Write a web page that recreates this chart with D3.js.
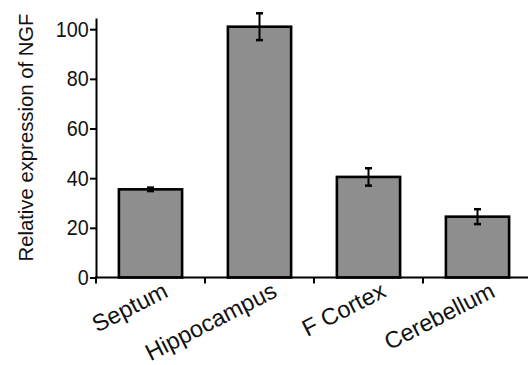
<!DOCTYPE html>
<html>
<head>
<meta charset="utf-8">
<script src="https://cdn.jsdelivr.net/npm/d3@7"></script>
<style>
  html, body { margin: 0; padding: 0; background: #fff; }
  svg { display: block; }
  text { font-family: "Liberation Sans", Arial, Helvetica, sans-serif; fill: #111; }
</style>
</head>
<body>
<svg id="chart" width="528" height="365"></svg>
<script>
const categories = ["Septum", "Hippocampus", "F Cortex", "Cerebellum"];
const values = [35.5, 101, 40.5, 24.5];
const errors = [0.7, 5.4, 3.5, 3.0];
const yTicks = [0, 20, 40, 60, 80, 100];
const yTitle = "Relative expression of NGF";

const svg = d3.select("#chart");
const x0 = 96, x1 = 532, yBase = 277.5, yTop = 18;

const x = d3.scaleBand().domain(categories).range([x0, x1])
  .paddingInner(0.42).paddingOuter(0.21);
const y = d3.scaleLinear().domain([0, 104.5]).range([yBase, yTop]);

// bars
svg.append("g").selectAll("rect").data(categories).join("rect")
  .attr("x", d => x(d))
  .attr("y", (d, i) => y(values[i]))
  .attr("width", x.bandwidth())
  .attr("height", (d, i) => y(0) - y(values[i]))
  .attr("fill", "#8e8e8e")
  .attr("stroke", "#000")
  .attr("stroke-width", 2.6);

// error bars
const eg = svg.append("g").attr("stroke", "#000");
categories.forEach((c, i) => {
  const cx = x(c) + x.bandwidth() / 2;
  const hi = y(values[i] + errors[i]), lo = y(values[i] - errors[i]);
  eg.append("line").attr("x1", cx).attr("x2", cx).attr("y1", hi).attr("y2", lo).attr("stroke-width", 2);
  [hi, lo].forEach(v => eg.append("line").attr("x1", cx - 3.5).attr("x2", cx + 3.5)
    .attr("y1", v).attr("y2", v).attr("stroke-width", 2.5));
});

// y axis
const yAxis = svg.append("g").attr("transform", `translate(${x0},0)`)
  .call(d3.axisLeft(y).tickValues(yTicks).tickSize(6).tickPadding(2).tickSizeOuter(0));
yAxis.select(".domain").attr("stroke", "#000").attr("stroke-width", 2);
yAxis.selectAll(".tick line").attr("stroke", "#000").attr("stroke-width", 2);
yAxis.selectAll(".tick text").attr("font-size", 21.5).attr("fill", "#111")
  .attr("font-family", "Liberation Sans, Arial, sans-serif")
  .attr("transform", "scale(0.92,1)");

// x axis: tick marks at band boundaries
const bounds = categories.map(c => x(c) - x.step() * x.paddingInner() / 2);
bounds[0] = x0;
bounds.push(x1);
const xAxisG = svg.append("g");
xAxisG.append("line").attr("x1", x0 - 1).attr("x2", x1).attr("y1", yBase).attr("y2", yBase)
  .attr("stroke", "#000").attr("stroke-width", 2.2);
xAxisG.selectAll("line.tk").data(bounds).join("line").attr("class", "tk")
  .attr("x1", d => d).attr("x2", d => d).attr("y1", yBase).attr("y2", yBase + 6)
  .attr("stroke", "#000").attr("stroke-width", 2);

// x labels
svg.append("g").selectAll("text").data(categories).join("text")
  .attr("transform", d => `translate(${x(d) + x.bandwidth() / 2 + 19},296) rotate(-27)`)
  .attr("text-anchor", "end")
  .attr("font-size", 23.5)
  .text(d => d);

// y title
svg.append("text")
  .attr("transform", `translate(33,${(13 + 262) / 2}) rotate(-90)`)
  .attr("text-anchor", "middle")
  .attr("font-size", 20.3)
  .text(yTitle);
</script>
</body>
</html>
